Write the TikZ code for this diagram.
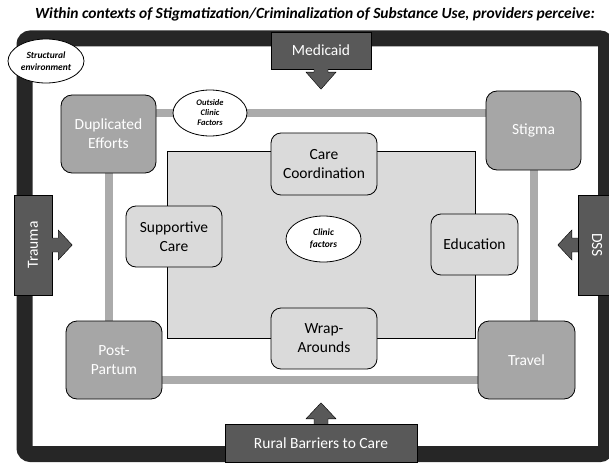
\documentclass[tikz,border=0pt]{standalone}
\usepackage{fontspec}
\setmainfont{Carlito}
\usetikzlibrary{shapes.geometric}

\definecolor{framegray}{HTML}{262626}
\definecolor{darkbox}{HTML}{595959}
\definecolor{midbox}{HTML}{A6A6A6}
\definecolor{lightbox}{HTML}{DADADA}
\definecolor{linkgray}{HTML}{ABABAB}

\begin{document}
\begin{tikzpicture}[x=1pt,y=-1pt,
        boxtext/.style={font=\fontsize{15.5}{19}\selectfont,align=center,inner sep=0pt},
        bubble/.style={ellipse,draw,fill=white,thick,inner sep=0pt,align=center},
        blockarrow/.style={draw,fill=darkbox,line join=miter}]
        \useasboundingbox (0,0) rectangle (609,465);

        \node (title) at (315,14) {\fontsize{15.5}{18}\selectfont\bfseries\itshape Within contexts of Stigmatization/Criminalization of Substance Use, providers perceive:};

        % structural frame
        \draw[line width=16pt,framegray,rounded corners=6pt] (24.5,38.5) rectangle (606,454);

        % outside clinic factors
        \coordinate (outside) at (210,113);
        \coordinate (base) at (0,380);
        \coordinate (dupc) at (108.5,134);
        \coordinate (stigmac) at (533.5,130.5);
        \draw[linkgray,line width=8pt] (dupc |- outside) -- (stigmac |- outside)
            -- (stigmac |- base) -- (dupc |- base) -- cycle;

        \begin{scope}[every node/.style={boxtext,rectangle,draw,thick,fill=midbox,text=white,rounded corners=11pt}]
            \node[minimum width=95pt,minimum height=78pt] (dup) at (dupc) {Duplicated\\Efforts};
            \node[minimum width=95pt,minimum height=79pt] (stigma) at (stigmac) {Stigma};
            \node[minimum width=96pt,minimum height=78pt] (post) at (114,360) {Post-\\Partum};
            \node[minimum width=97pt,minimum height=78pt] (travel) at (526.5,360) {Travel};
        \end{scope}
        \node[bubble,minimum width=74pt,minimum height=46pt,font=\fontsize{8.5}{10}\selectfont\bfseries\itshape] (outsidefactors) at (outside) {Outside\\Clinic\\Factors};

        % clinic factors
        \node[draw,fill=lightbox,minimum width=308pt,minimum height=187pt,inner sep=0pt] (clinic) at (321,244.5) {};
        \begin{scope}[every node/.style={boxtext,rectangle,draw,thick,fill=lightbox,rounded corners=10pt}]
            \node[minimum width=106pt,minimum height=62pt] (coord) at (324,164) {Care\\Coordination};
            \node[minimum width=96pt,minimum height=61pt] (support) at (174,236.5) {Supportive\\Care};
            \node[minimum width=87pt,minimum height=61pt] (educ) at (474.5,244.5) {Education};
            \node[minimum width=106pt,minimum height=61pt] (wrap) at (324,338.5) {Wrap-\\Arounds};
        \end{scope}
        \node[bubble,minimum width=75pt,minimum height=46pt,font=\fontsize{9.5}{12}\selectfont\bfseries\itshape] (clinicfactors) at (323.5,239) {Clinic\\factors};

        \node[bubble,minimum width=76pt,minimum height=44pt,font=\fontsize{9.5}{12.5}\selectfont\bfseries\itshape] (structural) at (46,61) {Structural\\environment};

        % structural factors
        \begin{scope}[every node/.style={boxtext,rectangle,draw,fill=darkbox,text=white}]
            \node[minimum width=100pt,minimum height=37pt] (medicaid) at (321,50.5) {Medicaid};
            \node[minimum width=100pt,minimum height=38pt,rotate=90] (trauma) at (33,245) {Trauma};
            \node[minimum width=100pt,minimum height=38pt,rotate=-90] (dss) at (597,245) {DSS};
            \node[minimum width=192pt,minimum height=38pt] (rural) at (321,443) {Rural Barriers to Care};
        \end{scope}

        \draw[blockarrow] ([xshift=-7pt]medicaid.south) -- ++(0,3) -- ++(-8,0) -- ++(15,17) -- ++(15,-17) -- ++(-8,0) -- ++(0,-3);
        \draw[blockarrow] ([xshift=-7pt]rural.north) -- ++(0,-5) -- ++(-8,0) -- ++(15,-16) -- ++(15,16) -- ++(-8,0) -- ++(0,5);
        \draw[blockarrow] ([yshift=7pt]trauma.south) -- ++(6,0) -- ++(0,-8) -- ++(14,15) -- ++(-14,15) -- ++(0,-8) -- ++(-6,0);
        \draw[blockarrow] ([yshift=7pt]dss.south) -- ++(-6,0) -- ++(0,-8) -- ++(-14,15) -- ++(14,15) -- ++(0,-8) -- ++(6,0);
    \end{tikzpicture}
\end{document}
